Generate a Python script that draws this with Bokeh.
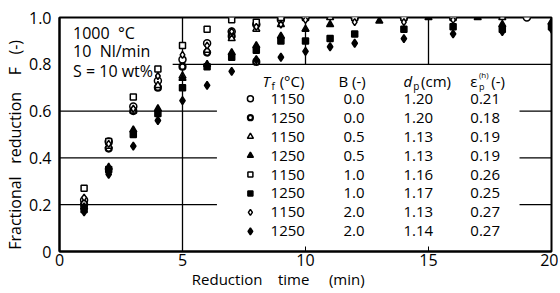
from bokeh.plotting import figure
from bokeh.models import Label, ColumnDataSource, FixedTicker, PrintfTickFormatter
from bokeh.core.properties import value
from bokeh.embed import file_html
from bokeh.resources import INLINE

# ---------------- data ----------------
Tf = [1150, 1250, 1150, 1250, 1150, 1250, 1150, 1250]
B = ["0.0", "0.0", "0.5", "0.5", "1.0", "1.0", "2.0", "2.0"]
dp = ["1.20", "1.20", "1.13", "1.13", "1.16", "1.17", "1.13", "1.14"]
eps = ["0.21", "0.18", "0.19", "0.19", "0.26", "0.25", "0.27", "0.27"]

t1 = [1, 2, 3, 4, 5, 6, 7, 8, 9, 10, 12, 14, 16, 19]
F1 = [0.22, 0.47, 0.62, 0.73, 0.82, 0.89, 0.94, 0.97, 0.99, 1.0, 1.0, 1.0, 1.0, 1.0]
t2 = [1, 2, 3, 4, 5, 6, 7, 8]
F2 = [0.20, 0.44, 0.60, 0.70, 0.79, 0.85, 0.92, 0.81]
t3 = [1, 2, 3, 4, 5, 6, 7, 8, 9, 11, 18]
F3 = [0.21, 0.45, 0.60, 0.71, 0.75, 0.86, 0.91, 0.95, 0.97, 1.0, 1.0]
t4 = [1, 2, 3, 4, 5, 6, 7, 8, 9, 10, 11, 13, 15, 17, 18, 20]
F4 = [0.19, 0.36, 0.52, 0.61, 0.74, 0.80, 0.85, 0.88, 0.92, 0.95, 0.97, 0.985, 1.0, 1.0, 0.97, 0.98]
t5 = [1, 2, 3, 4, 5, 6, 7, 8, 9, 10, 12, 14, 16]
F5 = [0.27, 0.47, 0.66, 0.78, 0.88, 0.95, 0.99, 0.98, 1.0, 1.0, 1.0, 1.0, 1.0]
t6 = [1, 2, 3, 4, 5, 6, 7, 8, 9, 10, 11, 12, 14, 16, 18, 20]
F6 = [0.18, 0.35, 0.50, 0.59, 0.70, 0.79, 0.83, 0.86, 0.90, 0.90, 0.91, 0.93, 0.95, 0.96, 0.95, 0.96]
t7 = [1, 2, 3, 4, 5, 6, 7, 8, 9, 10, 12, 14, 16]
F7 = [0.23, 0.46, 0.61, 0.75, 0.84, 0.88, 0.94, 0.96, 0.97, 0.99, 0.98, 0.98, 0.99]
t8 = [1, 2, 3, 4, 5, 6, 7, 8, 9, 10, 11, 12, 14, 16, 18, 20]
F8 = [0.17, 0.33, 0.45, 0.56, 0.645, 0.71, 0.77, 0.82, 0.83, 0.855, 0.875, 0.89, 0.91, 0.93, 0.94, 0.95]

x_ticks = [0, 5, 10, 15, 20]
y_ticks = [0, 0.2, 0.4, 0.6, 0.8, 1.0]

series_t = [t1, t2, t3, t4, t5, t6, t7, t8]
series_F = [F1, F2, F3, F4, F5, F6, F7, F8]

# ---------------- styles ----------------
markers = ["circle", "circle", "triangle", "triangle", "square", "square", "diamond", "diamond"]
filled = [False, False, False, True, False, True, False, True]
sizes = [7, 6, 7, 7, 6, 6, 7, 8]
lwidths = [1.5, 2.2, 1.5, 1.5, 1.5, 1.5, 1.5, 1.5]
FONT = "Open Sans"
SP = "\u00a0"

p = figure(width=558, height=291, x_range=(0, 20), y_range=(0, 1.0),
           output_backend="svg", toolbar_location=None,
           min_border_left=59, min_border_right=7, min_border_top=17, min_border_bottom=36)
p.xgrid.visible = False
p.ygrid.visible = False
p.outline_line_color = "black"
p.outline_line_width = 2
p.background_fill_color = "white"

for ax in (p.xaxis[0], p.yaxis[0]):
    ax.axis_line_width = 2
    ax.major_label_text_font = FONT
    ax.major_label_text_font_size = "16px"
    ax.major_label_text_color = "black"
    ax.minor_tick_line_color = None
    ax.major_tick_out = 0
    ax.axis_label_text_font = FONT
    ax.axis_label_text_font_style = "normal"
    ax.axis_label_text_color = "black"

p.xaxis.ticker = FixedTicker(ticks=x_ticks)
p.xaxis.major_tick_in = 5
p.xaxis.major_label_standoff = 2
p.xaxis.axis_label = "Reduction" + SP * 4 + "time" + SP * 5 + "(min)" + SP * 14
p.xaxis.axis_label_text_font_size = "15px"
p.xaxis.axis_label_standoff = 0

p.yaxis.ticker = FixedTicker(ticks=y_ticks)
p.yaxis.formatter = PrintfTickFormatter(format="%.1f")
p.yaxis.major_label_overrides = {0: "0"}
p.yaxis.major_tick_in = 0
p.yaxis.major_label_standoff = 8
p.yaxis.axis_label = "Fractional" + SP * 3 + "reduction" + SP * 4 + "F" + SP * 3 + "(-)" + SP * 5
p.yaxis.axis_label_text_font_size = "16px"
p.yaxis.axis_label_standoff = 0

# partial grid lines (figure frame decoration)
grid_x0 = [0, 0, 0, 4.6, 18.7, 18.7, 18.7, 5, 10, 15]
grid_x1 = [6.4, 6.4, 6.4, 20, 20, 20, 20, 5, 10, 15]
grid_y0 = [0.2, 0.4, 0.6, 0.8, 0.2, 0.4, 0.6, 0, 0.8, 0.8]
grid_y1 = [0.2, 0.4, 0.6, 0.8, 0.2, 0.4, 0.6, 1.0, 1.0, 1.0]
p.segment(x0=grid_x0, y0=grid_y0, x1=grid_x1, y1=grid_y1, line_color="black", line_width=1.3)

# data
for i in range(8):
    p.scatter(series_t[i], series_F[i], marker=markers[i], size=sizes[i],
              line_color="black", line_width=lwidths[i],
              fill_color="black" if filled[i] else "white")

def lab(x, y, text, size="15px", style="normal", align="left"):
    p.add_layout(Label(x=x, y=y, text=text, text_font=FONT, text_font_size=size,
                       text_font_style=style, text_align=align,
                       text_baseline="middle", text_color="black"))

# conditions
lab(0.55, 0.935, "1000" + SP * 2 + "°C", size="16px")
lab(0.55, 0.855, "10" + SP * 2 + "Nl/min", size="16px")
lab(0.55, 0.772, "S" + SP + "=" + SP + "10" + SP + "wt%", size="16px")

# table header
hy = 0.728
lab(8.25, hy, "T", style="italic")
lab(8.62, hy - 0.02, "f", size="10px")
lab(8.95, hy, "(°C)")
lab(11.34, hy, "B" + SP + "(-)")
lab(13.98, hy, "d", style="italic")
lab(14.38, hy - 0.02, "p", size="10px")
lab(14.7, hy, "(cm)")
lab(16.7, hy, "ε")
lab(17.05, hy - 0.025, "p", size="9px")
lab(17.05, hy + 0.03, "(h)", size="8px")
lab(17.55, hy, "(-)")

# table rows
row_y = [0.653 - 0.081 * i for i in range(8)]
src = ColumnDataSource(dict(y=row_y, Tf=[str(v) for v in Tf], B=B, dp=dp, eps=eps))
for col, xpos in (("Tf", 8.58), ("B", 11.54), ("dp", 13.98), ("eps", 16.7)):
    p.text(x=xpos, y="y", text=col, source=src, text_font=value(FONT),
           text_font_size="15px", text_baseline="middle", text_align="left", text_color="black")
for i in range(8):
    p.scatter([7.76], [row_y[i]], marker=markers[i], size=sizes[i] - 1,
              line_color="black", line_width=lwidths[i],
              fill_color="black" if filled[i] else "white")

open("out.html", "w").write(file_html(p, INLINE))
